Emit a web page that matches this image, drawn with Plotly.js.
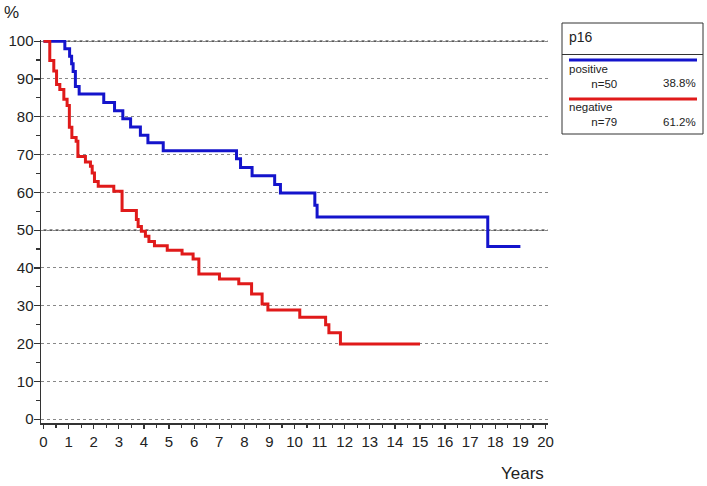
<!DOCTYPE html>
<html>
<head>
<meta charset="utf-8">
<script src="https://cdn.plot.ly/plotly-3.0.1.min.js"></script>
<style>
  html, body { margin: 0; padding: 0; background: #fff; }
  #chart { width: 707px; height: 486px; }
</style>
</head>
<body>
<div id="chart"></div>
<script>
// Kaplan-Meier curves (years, % surviving)
var posYears = [0, 0.85, 1.04, 1.12, 1.18, 1.27, 1.42, 2.4, 2.83, 3.16, 3.47, 3.86, 4.16, 4.77,
                7.69, 7.85, 8.31, 9.21, 9.44, 10.81, 10.9, 17.7, 19.0];
var posSurv  = [100, 98, 96, 94, 92, 88, 86, 83.8, 81.6, 79.5, 77.3, 75.1, 73.1, 71.0,
                68.9, 66.6, 64.4, 62.1, 59.8, 56.6, 53.5, 45.7, 45.7];

var negYears = [0, 0.25, 0.41, 0.52, 0.65, 0.81, 0.94, 1.03, 1.13, 1.3, 1.37, 1.67, 1.87, 1.94,
                2.03, 2.18, 2.8, 3.13, 3.7, 3.77, 3.9, 4.06, 4.2, 4.42, 4.93, 5.52, 5.96, 6.19,
                7.01, 7.78, 8.29, 8.71, 8.94, 10.21, 11.24, 11.37, 11.83, 15.0];
var negSurv  = [100, 94.9, 92.1, 88.5, 87.2, 84.6, 83.0, 77.2, 74.5, 73.5, 69.5, 68.0, 66.9, 65.1,
                62.9, 61.6, 60.3, 55.2, 52.8, 51.0, 49.7, 48.4, 47.0, 45.9, 44.7, 43.7, 42.4, 38.4,
                37.1, 35.8, 33.1, 30.5, 28.9, 27.0, 25.0, 22.9, 19.9, 19.9];

var groupNames = ['positive', 'negative'];
var groupN     = ['n=50', 'n=79'];
var groupPct   = ['38.8%', '61.2%'];
var groupColors = ['#1414cc', '#e01a1a'];
var yTicks = [0, 10, 20, 30, 40, 50, 60, 70, 80, 90, 100];
var xTicks = [0,1,2,3,4,5,6,7,8,9,10,11,12,13,14,15,16,17,18,19,20];

var W = 707, H = 486;
var M = { l: 41, r: 159, t: 40, b: 63 };
// pixel -> paper helpers for the hand drawn legend box
function px(x) { return (x - M.l) / (W - M.l - M.r); }
function py(y) { return (H - M.b - y) / (H - M.t - M.b); }

var font = 'Liberation Sans, Arial, sans-serif';
var indent = '\u00a0\u00a0\u00a0\u00a0\u00a0\u00a0\u00a0';

var traces = [
  { x: posYears, y: posSurv, name: groupNames[0], mode: 'lines',
    line: { shape: 'hv', color: groupColors[0], width: 3 } },
  { x: negYears, y: negSurv, name: groupNames[1], mode: 'lines',
    line: { shape: 'hv', color: groupColors[1], width: 3 } }
];

var shapes = [
  // darker dotted reference lines at 100 and 50
  { type: 'line', xref: 'paper', yref: 'y', x0: 0.005, x1: 1, y0: 100, y1: 100,
    line: { color: '#222', width: 1.3, dash: 'dot' }, layer: 'below' },
  { type: 'line', xref: 'paper', yref: 'y', x0: 0.005, x1: 1, y0: 50, y1: 50,
    line: { color: '#222', width: 1.3, dash: 'dot' }, layer: 'below' },
  // legend frame
  { type: 'rect', xref: 'paper', yref: 'paper', x0: px(562), x1: px(703), y0: py(23), y1: py(134),
    line: { color: '#333', width: 1 }, fillcolor: 'rgba(0,0,0,0)' },
  { type: 'line', xref: 'paper', yref: 'paper', x0: px(562), x1: px(703), y0: py(54.5), y1: py(54.5),
    line: { color: '#333', width: 1 } },
  { type: 'line', xref: 'paper', yref: 'paper', x0: px(569), x1: px(697), y0: py(60), y1: py(60),
    line: { color: groupColors[0], width: 3 } },
  { type: 'line', xref: 'paper', yref: 'paper', x0: px(569), x1: px(697), y0: py(99), y1: py(99),
    line: { color: groupColors[1], width: 3 } }
];

function ann(text, x, y, size, xanchor) {
  return { text: text, xref: 'paper', yref: 'paper', x: px(x), y: py(y), showarrow: false,
           xanchor: xanchor || 'left', yanchor: 'middle', align: 'left',
           font: { family: font, size: size, color: '#222' } };
}

var annotations = [
  ann('%', 2, 13, 17),
  ann('Years', 546, 473, 17, 'right'),
  ann('p16', 567, 37, 14),
  ann(groupNames[0] + '<br>' + indent + groupN[0], 567, 76, 11.5),
  ann(groupPct[0], 698, 83, 11.5, 'right'),
  ann(groupNames[1] + '<br>' + indent + groupN[1], 567, 115, 11.5),
  ann(groupPct[1], 698, 122, 11.5, 'right')
];

var layout = {
  width: W, height: H,
  margin: M,
  paper_bgcolor: '#fff', plot_bgcolor: '#fff',
  showlegend: false,
  font: { family: font, color: '#222' },
  xaxis: {
    range: [-0.1, 20.1], tickvals: xTicks, ticktext: xTicks.map(String),
    ticks: 'outside', ticklen: 4, tickwidth: 1.2, tickcolor: '#333',
    minor: { dtick: 0.5, tick0: 0, ticks: 'outside', ticklen: 3, tickcolor: '#333', showgrid: false },
    showline: true, linecolor: '#333', linewidth: 1.5,
    showgrid: false, zeroline: false,
    tickfont: { family: font, size: 15, color: '#222' }
  },
  yaxis: {
    range: [-1, 100.3], tickvals: yTicks, ticktext: yTicks.map(String),
    ticks: 'outside', ticklen: 6, tickwidth: 1.2, tickcolor: '#333',
    minor: { dtick: 5, tick0: 0, ticks: 'outside', ticklen: 3.5, tickcolor: '#333', showgrid: false },
    ticklabelstandoff: -3,
    showline: true, linecolor: '#333', linewidth: 1.5,
    showgrid: true, gridcolor: '#888', gridwidth: 1, griddash: 'dot', zeroline: false,
    tickfont: { family: font, size: 15, color: '#222' }
  },
  shapes: shapes,
  annotations: annotations
};

Plotly.newPlot('chart', traces, layout, { displayModeBar: false, staticPlot: true });
</script>
</body>
</html>
